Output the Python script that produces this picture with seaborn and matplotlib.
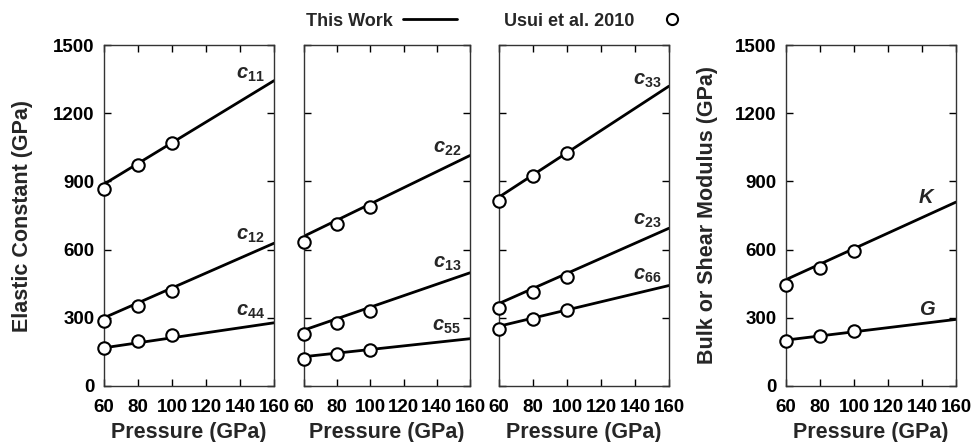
import numpy as np
import pandas as pd
import matplotlib
matplotlib.use("Agg")
import matplotlib.pyplot as plt
import seaborn as sns
from matplotlib.lines import Line2D

sns.set_theme(style="ticks")
plt.rcParams['font.family'] = ['Liberation Sans', 'DejaVu Sans']
plt.rcParams['font.weight'] = 'bold'
plt.rcParams['mathtext.fontset'] = 'custom'
plt.rcParams['mathtext.it'] = 'Liberation Sans:italic'
plt.rcParams['mathtext.rm'] = 'Liberation Sans'

# ---- data ----
p_line = [60, 160]
p_pts = [60, 80, 100]

line_vals = {
    "c11": [888, 1343], "c12": [300, 628], "c44": [168, 278],
    "c22": [659, 1014], "c13": [246, 498], "c55": [129, 208],
    "c33": [831, 1319], "c23": [363, 694], "c66": [263, 442],
    "K": [468, 809], "G": [202, 293],
}
pt_vals = {
    "c11": [868, 970, 1070], "c12": [285, 353, 417], "c44": [168, 199, 225],
    "c22": [634, 711, 787], "c13": [228, 278, 331], "c55": [119, 139, 158],
    "c33": [815, 923, 1026], "c23": [341, 413, 480], "c66": [249, 293, 334],
    "K": [446, 521, 593], "G": [196, 220, 241],
}
panels = [["c11", "c12", "c44"], ["c22", "c13", "c55"],
          ["c33", "c23", "c66"], ["K", "G"]]
label_text = {
    "c11": r"$\mathit{c_{11}}$", "c12": r"$\mathit{c_{12}}$", "c44": r"$\mathit{c_{44}}$",
    "c22": r"$\mathit{c_{22}}$", "c13": r"$\mathit{c_{13}}$", "c55": r"$\mathit{c_{55}}$",
    "c33": r"$\mathit{c_{33}}$", "c23": r"$\mathit{c_{23}}$", "c66": r"$\mathit{c_{66}}$",
    "K": r"$\mathit{K}$", "G": r"$\mathit{G}$",
}
label_pos = {
    "c11": (146, 1370), "c12": (146, 663), "c44": (146, 326),
    "c22": (146, 1043), "c13": (146, 538), "c55": (146, 260),
    "c33": (147, 1343), "c23": (147, 729), "c66": (147, 487),
    "K": (143, 830), "G": (143, 337),
}
xticks = [60, 80, 100, 120, 140, 160]
yticks = [0, 300, 600, 900, 1200, 1500]

W, H = 974, 442
fig = plt.figure(figsize=(W / 100, H / 100), dpi=100)
lefts = [104, 304, 499, 786]
widths = [170, 166, 170, 170]
bottom_px, top_px = 386, 45

for i, keys in enumerate(panels):
    ax = fig.add_axes([lefts[i] / W, (H - bottom_px) / H, widths[i] / W,
                       (bottom_px - top_px) / H])
    for k in keys:
        dl = pd.DataFrame({"P": p_line, "v": line_vals[k]})
        dp = pd.DataFrame({"P": p_pts, "v": pt_vals[k]})
        sns.lineplot(data=dl, x="P", y="v", ax=ax, color="black", lw=2.0, zorder=2)
        sns.scatterplot(data=dp, x="P", y="v", ax=ax, s=80, facecolor="white",
                        edgecolor="black", linewidth=1.5, zorder=3, clip_on=False)
        ax.text(*label_pos[k], label_text[k], fontsize=14.5, ha="center", va="center")
    ax.set_xlim(60, 160)
    ax.set_ylim(0, 1500)
    ax.set_xticks(xticks)
    ax.set_yticks(yticks)
    ax.tick_params(direction="in", length=5, width=1, top=True, right=True,
                   labelsize=13.5, colors="black")
    ax.tick_params(axis="x", pad=9)
    ax.tick_params(axis="y", pad=7)
    for lab in ax.get_xticklabels() + ax.get_yticklabels():
        lab.set_fontweight("bold")
    for s in ax.spines.values():
        s.set_linewidth(1.0)
        s.set_color("#333333")
    ax.set_xlabel("Pressure (GPa)", fontsize=15.5, fontweight="bold", labelpad=5)
    if i == 0:
        ax.set_ylabel("Elastic Constant (GPa)", fontsize=15.5, fontweight="bold",
                      labelpad=14)
    elif i == 3:
        ax.set_ylabel("Bulk or Shear Modulus (GPa)", fontsize=15.5, fontweight="bold",
                      labelpad=12)
    else:
        ax.set_ylabel("")
        ax.set_yticklabels([])

handles = [Line2D([], [], color="black", lw=2.0),
           Line2D([], [], ls="none", marker="o", markersize=8,
                  markerfacecolor="white", markeredgecolor="black", markeredgewidth=1.5)]
fig.legend(handles, ["This Work", "Usui et al. 2010"], ncol=2, markerfirst=False,
           frameon=False, loc="center", bbox_to_anchor=(0.516, 0.952),
           prop={"weight": "bold", "size": 13}, handlelength=3.0, columnspacing=2.6,
           handletextpad=0.55)

fig.savefig("out.png", dpi=100)
